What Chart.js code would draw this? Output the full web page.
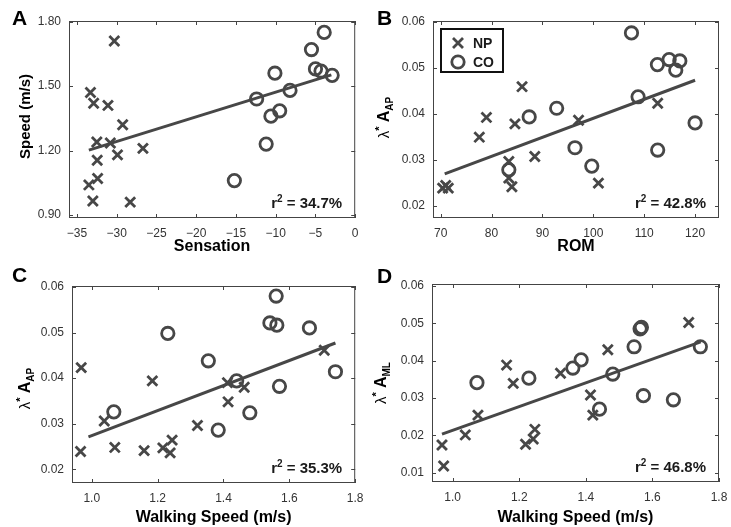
<!DOCTYPE html>
<html>
<head>
<meta charset="utf-8">
<script src="https://cdn.jsdelivr.net/npm/chart.js@4.4.1/dist/chart.umd.min.js"></script>
<style>
  body { margin: 0; background: #fff; }
  #wrap { position: relative; width: 731px; height: 527px; overflow: hidden; }
  canvas { position: absolute; }
</style>
</head>
<body>
<div id="wrap">
  <canvas id="chartA" width="365" height="260" style="left:0;top:0"></canvas>
  <canvas id="chartB" width="366" height="260" style="left:365px;top:0"></canvas>
  <canvas id="chartC" width="365" height="267" style="left:0;top:260px"></canvas>
  <canvas id="chartD" width="366" height="267" style="left:365px;top:260px"></canvas>
</div>
<script>
// ---- data ----
// A: sensation vs walking speed
const sensNP = [-30.3, -33.3, -32.9, -31.1, -29.25, -32.5, -30.8, -29.9, -26.7, -32.45, -32.4, -33.5, -33.0, -28.3];
const speedNP = [1.71, 1.47, 1.42, 1.41, 1.32, 1.24, 1.235, 1.18, 1.21, 1.155, 1.07, 1.04, 0.965, 0.96];
const sensCO = [-3.9, -5.5, -5.0, -4.3, -2.9, -10.1, -8.2, -12.4, -9.5, -10.6, -11.2, -15.2];
const speedCO = [1.75, 1.67, 1.58, 1.57, 1.55, 1.56, 1.48, 1.44, 1.385, 1.36, 1.23, 1.06];
const fitAx = [-33.5, -3.0];
const fitAy = [1.202, 1.552];

// B: ROM vs lambda* A_AP
const romNP = [86.0, 79.0, 77.6, 84.6, 88.5, 83.4, 83.4, 84.0, 70.4, 71.0, 71.5, 97.1, 101.0, 112.65];
const apRomNP = [0.0459, 0.0392, 0.0349, 0.0378, 0.0307, 0.0296, 0.0260, 0.0241, 0.0238, 0.0244, 0.0238, 0.0386, 0.0249, 0.0423];
const romCO = [107.5, 112.6, 114.9, 116.2, 117.0, 108.8, 120.0, 112.65, 99.7, 96.4, 92.8, 87.4, 83.4];
const apRomCO = [0.0576, 0.0507, 0.0518, 0.0495, 0.0515, 0.0437, 0.0380, 0.0321, 0.0286, 0.0326, 0.0412, 0.0393, 0.0278];
const fitBx = [70.8, 120.0];
const fitBy = [0.0269, 0.0473];

// C: walking speed vs lambda* A_AP
const walkNP_C = [0.968, 0.966, 1.038, 1.070, 1.184, 1.159, 1.216, 1.238, 1.244, 1.321, 1.414, 1.412, 1.463, 1.706];
const apNP = [0.0423, 0.0239, 0.0306, 0.0248, 0.0394, 0.0241, 0.0247, 0.0236, 0.0264, 0.0296, 0.0348, 0.0390, 0.0380, 0.0461];
const walkCO_C = [1.560, 1.541, 1.562, 1.661, 1.231, 1.354, 1.440, 1.740, 1.570, 1.480, 1.384, 1.067];
const apCO = [0.0580, 0.0521, 0.0516, 0.0510, 0.0498, 0.0438, 0.0394, 0.0414, 0.0382, 0.0324, 0.0286, 0.0326];
const fitCx = [0.99, 1.74];
const fitCy = [0.0271, 0.0477];

// D: walking speed vs lambda* A_ML
const walkNP_D = [0.968, 0.973, 1.038, 1.076, 1.162, 1.182, 1.219, 1.242, 1.247, 1.324, 1.414, 1.421, 1.466, 1.709];
const mlNP = [0.0174, 0.0118, 0.0201, 0.0254, 0.0388, 0.0339, 0.0176, 0.0190, 0.0216, 0.0366, 0.0308, 0.0254, 0.0429, 0.0502];
const walkCO_D = [1.073, 1.229, 1.361, 1.386, 1.441, 1.481, 1.545, 1.563, 1.567, 1.573, 1.663, 1.744];
const mlCO = [0.0341, 0.0353, 0.0380, 0.0402, 0.0270, 0.0364, 0.0437, 0.0485, 0.0489, 0.0306, 0.0295, 0.0437];
const fitDx = [0.968, 1.745];
const fitDy = [0.0203, 0.0450];

// tick values
const sensTicks = [-35, -30, -25, -20, -15, -10, -5, 0];
const speedTicks = [0.9, 1.2, 1.5, 1.8];
const romTicks = [70, 80, 90, 100, 110, 120];
const apTicks = [0.02, 0.03, 0.04, 0.05, 0.06];
const mlTicks = [0.01, 0.02, 0.03, 0.04, 0.05, 0.06];
const walkTicks = [1.0, 1.2, 1.4, 1.6, 1.8];

const groupLabels = ['NP', 'CO'];
const r2Labels = ['34.7%', '42.8%', '35.3%', '46.8%'];

const FONT = '"Liberation Sans", Arial, Helvetica, sans-serif';
const markColor = '#474747';
const boxColor = '#444';

function zip(xs, ys) {
    return xs.map((x, i) => ({ x: x, y: ys[i] }));
}

const minusFmt = v => (v < 0 ? '\u2212' + Math.abs(v) : String(v));
const fmt1 = v => v.toFixed(1);
const fmt2 = v => v.toFixed(2);

const lambdaTitle = sub => [
    { t: '\u03bb', f: '15px ' + FONT, dy: 0 },
    { t: '*', f: 'bold 11px ' + FONT, dy: -6 },
    { t: ' ', f: '15px ' + FONT, dy: 0 },
    { t: 'A', f: 'bold 16px ' + FONT, dy: 0 },
    { t: sub, f: 'bold 10px ' + FONT, dy: 4 }
];

const panels = [
    {
        id: 'chartA', letter: 'A', letterY: 25, w: 365, h: 260,
        area: { l: 69, r: 357, t: 21, b: 218 },
        x: { min: -36, max: 0, ticks: sensTicks, fmt: minusFmt, title: 'Sensation', pad: 4 },
        y: { min: 0.886, max: 1.803, ticks: speedTicks, fmt: fmt2 },
        yTitle: [{ t: 'Speed (m/s)', f: 'bold 15px ' + FONT, dy: 0 }], yTitleX: 30, yTitleShift: -3,
        np: zip(sensNP, speedNP), co: zip(sensCO, speedCO), fit: zip(fitAx, fitAy),
        r2: r2Labels[0], legend: false
    },
    {
        id: 'chartB', letter: 'B', letterY: 25, w: 366, h: 260,
        area: { l: 68, r: 354, t: 21, b: 218 },
        x: { min: 68.5, max: 124.7, ticks: romTicks, fmt: v => String(v), title: 'ROM', pad: 4 },
        y: { min: 0.0173, max: 0.0602, ticks: apTicks, fmt: fmt2 },
        yTitle: lambdaTitle('AP'), yTitleX: 24, yTitleShift: -2,
        np: zip(romNP, apRomNP), co: zip(romCO, apRomCO), fit: zip(fitBx, fitBy),
        r2: r2Labels[1], legend: true
    },
    {
        id: 'chartC', letter: 'C', letterY: 22, w: 365, h: 267,
        area: { l: 72, r: 357, t: 26, b: 223 },
        x: { min: 0.94, max: 1.8, ticks: walkTicks, fmt: fmt1, title: 'Walking Speed (m/s)', pad: 0 },
        y: { min: 0.017, max: 0.0602, ticks: apTicks, fmt: fmt2 },
        yTitle: lambdaTitle('AP'), yTitleX: 30, yTitleShift: 4,
        np: zip(walkNP_C, apNP), co: zip(walkCO_C, apCO), fit: zip(fitCx, fitCy),
        r2: r2Labels[2], legend: false
    },
    {
        id: 'chartD', letter: 'D', letterY: 23, w: 366, h: 267,
        area: { l: 67, r: 354, t: 24, b: 222 },
        x: { min: 0.938, max: 1.8, ticks: walkTicks, fmt: fmt1, title: 'Walking Speed (m/s)', pad: 0 },
        y: { min: 0.0075, max: 0.0605, ticks: mlTicks, fmt: fmt2 },
        yTitle: lambdaTitle('ML'), yTitleX: 21, yTitleShift: 0,
        np: zip(walkNP_D, mlNP), co: zip(walkCO_D, mlCO), fit: zip(fitDx, fitDy),
        r2: r2Labels[3], legend: false
    }
];

// box, inward ticks, panel letter, y title, r^2 note and legend
const decor = {
    id: 'decor',
    afterDraw(chart) {
        const p = chart.options.plugins.decor.panel;
        const ctx = chart.ctx;
        const a = chart.chartArea;
        const xs = chart.scales.x, ys = chart.scales.y;
        ctx.save();

        ctx.strokeStyle = boxColor;
        ctx.lineWidth = 1;
        ctx.strokeRect(a.left + 0.5, a.top + 0.5, a.right - a.left - 1, a.bottom - a.top - 1);
        ctx.beginPath();
        xs.ticks.forEach(t => {
            const px = Math.round(xs.getPixelForValue(t.value)) + 0.5;
            ctx.moveTo(px, a.bottom); ctx.lineTo(px, a.bottom - 4);
            ctx.moveTo(px, a.top); ctx.lineTo(px, a.top + 4);
        });
        ys.ticks.forEach(t => {
            const py = Math.round(ys.getPixelForValue(t.value)) + 0.5;
            ctx.moveTo(a.left, py); ctx.lineTo(a.left + 4, py);
            ctx.moveTo(a.right, py); ctx.lineTo(a.right - 4, py);
        });
        ctx.stroke();

        // panel letter
        ctx.fillStyle = '#000';
        ctx.font = 'bold 21px ' + FONT;
        ctx.textAlign = 'left';
        ctx.textBaseline = 'alphabetic';
        ctx.fillText(p.letter, 12, p.letterY);

        // rotated y title
        let total = 0;
        p.yTitle.forEach(s => { ctx.font = s.f; s.w = ctx.measureText(s.t).width; total += s.w; });
        ctx.save();
        ctx.translate(p.yTitleX, (a.top + a.bottom) / 2 + p.yTitleShift);
        ctx.rotate(-Math.PI / 2);
        let cx = -total / 2;
        p.yTitle.forEach(s => {
            ctx.font = s.f;
            ctx.fillText(s.t, cx, s.dy);
            cx += s.w;
        });
        ctx.restore();

        // r^2 note
        const parts = [
            { t: 'r', f: 'bold 15px ' + FONT, dy: 0 },
            { t: '2', f: 'bold 10px ' + FONT, dy: -6 },
            { t: ' = ' + p.r2, f: 'bold 15px ' + FONT, dy: 0 }
        ];
        let rw = 0;
        parts.forEach(s => { ctx.font = s.f; s.w = ctx.measureText(s.t).width; rw += s.w; });
        let rx = a.right - 13 - rw;
        const ry = a.bottom - 10;
        ctx.fillStyle = '#1a1a1a';
        parts.forEach(s => {
            ctx.font = s.f;
            ctx.fillText(s.t, rx, ry + s.dy);
            rx += s.w;
        });

        // legend inside the plot area
        if (p.legend) {
            const lx = a.left + 8, ly = a.top + 8;
            ctx.lineWidth = 2;
            ctx.strokeStyle = '#111';
            ctx.strokeRect(lx, ly, 62, 43);
            ctx.strokeStyle = markColor;
            ctx.lineWidth = 2.8;
            const mx = lx + 17;
            const rows = [ly + 14, ly + 33];
            ctx.beginPath();
            ctx.moveTo(mx - 5, rows[0] - 5); ctx.lineTo(mx + 5, rows[0] + 5);
            ctx.moveTo(mx + 5, rows[0] - 5); ctx.lineTo(mx - 5, rows[0] + 5);
            ctx.stroke();
            ctx.beginPath();
            ctx.arc(mx, rows[1], 6.2, 0, Math.PI * 2);
            ctx.stroke();
            ctx.fillStyle = '#1a1a1a';
            ctx.font = 'bold 14px ' + FONT;
            ctx.textBaseline = 'middle';
            ctx.fillText(groupLabels[0], lx + 32, rows[0] + 1);
            ctx.fillText(groupLabels[1], lx + 32, rows[1] + 1);
        }
        ctx.restore();
    }
};

function makeChart(p) {
    return new Chart(document.getElementById(p.id), {
        type: 'scatter',
        data: {
            datasets: [
                {
                    label: groupLabels[0], data: p.np, pointStyle: 'crossRot', pointRadius: 7,
                    borderColor: markColor, backgroundColor: 'transparent', borderWidth: 2.8
                },
                {
                    label: groupLabels[1], data: p.co, pointStyle: 'circle', pointRadius: 6.2,
                    borderColor: markColor, backgroundColor: 'transparent', borderWidth: 2.8
                },
                {
                    type: 'line', label: 'fit', data: p.fit, borderColor: markColor,
                    borderWidth: 3, pointRadius: 0, fill: false
                }
            ]
        },
        options: {
            responsive: false,
            animation: false,
            events: [],
            layout: { padding: { left: 0, right: p.w - p.area.r, top: p.area.t, bottom: 0 } },
            plugins: {
                legend: { display: false },
                tooltip: { enabled: false },
                decor: { panel: p }
            },
            scales: {
                x: {
                    type: 'linear', min: p.x.min, max: p.x.max,
                    afterBuildTicks: s => { s.ticks = p.x.ticks.map(v => ({ value: v })); },
                    afterFit: s => {
                        s.height = p.h - p.area.b;
                        s.paddingLeft = 0; s.paddingRight = 0;
                    },
                    grid: { display: false, drawTicks: false },
                    border: { display: false },
                    ticks: {
                        padding: 8, color: '#333', maxRotation: 0, autoSkip: false,
                        font: { family: FONT, size: 12 },
                        callback: v => p.x.fmt(v)
                    },
                    title: {
                        display: true, text: p.x.title, color: '#000',
                        font: { family: FONT, size: 16, weight: 'bold' },
                        padding: { top: 0, bottom: p.x.pad }
                    }
                },
                y: {
                    type: 'linear', min: p.y.min, max: p.y.max,
                    afterBuildTicks: s => { s.ticks = p.y.ticks.map(v => ({ value: v })); },
                    afterFit: s => {
                        s.width = p.area.l;
                        s.paddingTop = 0; s.paddingBottom = 0;
                    },
                    grid: { display: false, drawTicks: false },
                    border: { display: false },
                    ticks: {
                        padding: 8, color: '#333', autoSkip: false,
                        font: { family: FONT, size: 12 },
                        callback: v => p.y.fmt(v)
                    }
                }
            }
        },
        plugins: [decor]
    });
}

panels.forEach(makeChart);
</script>
</body>
</html>
